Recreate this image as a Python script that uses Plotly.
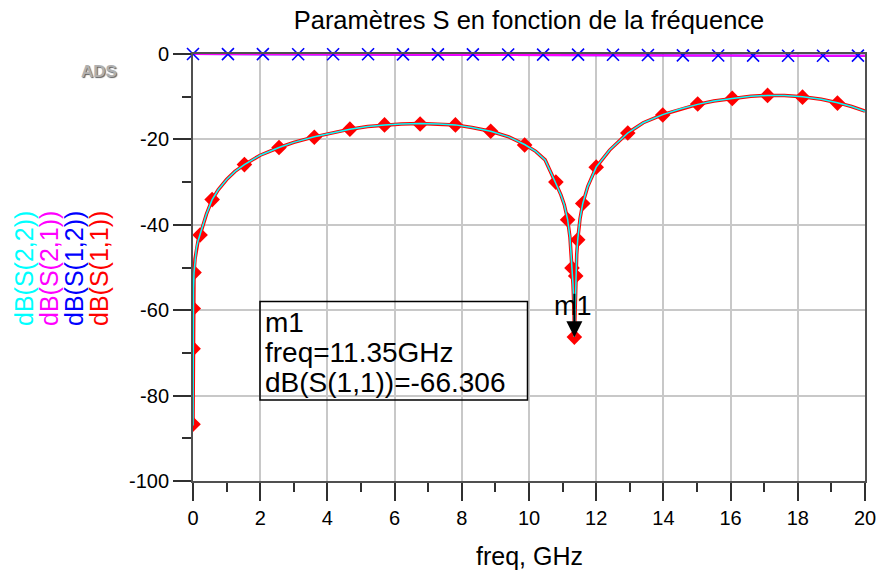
import plotly.graph_objects as go

# ---------------- data ----------------
freq_s11 = [0.0, 0.003, 0.007, 0.015, 0.03, 0.06, 0.1, 0.15, 0.21, 0.3, 0.4, 0.57, 0.75, 1.0,
            1.25, 1.53, 2.0, 2.56, 3.0, 3.61, 4.2, 4.67, 5.2, 5.7, 6.2, 6.76, 7.3, 7.81,
            8.3, 8.86, 9.4, 9.87, 10.2, 10.48, 10.77, 10.95, 11.05, 11.15, 11.22, 11.27,
            11.31, 11.34, 11.35, 11.37, 11.39, 11.42, 11.45, 11.52, 11.6, 11.75, 12.0,
            12.4, 12.94, 13.4, 13.98, 14.5, 15.02, 15.5, 16.05, 16.6, 17.1, 17.6, 18.14,
            18.7, 19.18, 19.6, 20.0]
s11_db = [-87.0, -69.0, -59.6, -55.0, -51.2, -48.0, -45.5, -43.8, -42.4, -40.0, -37.5, -34.1,
          -31.8, -29.4, -27.5, -25.9, -23.7, -21.9, -20.7, -19.4, -18.4, -17.6, -17.0, -16.6,
          -16.4, -16.3, -16.4, -16.6, -17.2, -18.1, -19.4, -21.2, -22.8, -24.8, -29.8, -33.0,
          -35.3, -38.8, -43.0, -48.0, -54.0, -60.0, -66.3, -61.0, -53.0, -47.0, -43.5, -38.5,
          -35.0, -31.0, -26.5, -22.5, -18.5, -16.1, -14.2, -12.9, -11.8, -11.0, -10.4, -9.9,
          -9.7, -9.7, -10.0, -10.6, -11.4, -12.3, -13.4]
s22_db = [-87.0, -69.0, -59.6, -55.0, -51.2, -48.0, -45.5, -43.8, -42.4, -40.0, -37.5, -34.1,
          -31.8, -29.4, -27.5, -25.9, -23.7, -21.9, -20.7, -19.4, -18.4, -17.6, -17.0, -16.6,
          -16.4, -16.3, -16.4, -16.6, -17.2, -18.1, -19.4, -21.2, -22.8, -24.8, -29.8, -33.0,
          -35.3, -38.8, -43.0, -48.0, -54.0, -60.0, -66.3, -61.0, -53.0, -47.0, -43.5, -38.5,
          -35.0, -31.0, -26.5, -22.5, -18.5, -16.1, -14.2, -12.9, -11.8, -11.0, -10.4, -9.9,
          -9.7, -9.7, -10.0, -10.6, -11.4, -12.3, -13.4]

# S11 marker symbols (diamonds)
freq_s11_mk = [0.0, 0.003, 0.007, 0.03, 0.21, 0.57, 1.53, 2.56, 3.61, 4.67, 5.7, 6.76, 7.81,
               8.86, 9.87, 10.8, 11.15, 11.28, 11.35, 11.39, 11.45, 11.6, 12.0, 12.94, 13.98,
               15.02, 16.05, 17.1, 18.14, 19.18]
s11_mk_db = [-86.7, -69.0, -59.6, -51.2, -42.4, -34.1, -25.9, -21.9, -19.5, -17.6, -16.6, -16.4,
             -16.6, -18.1, -21.3, -30.0, -38.8, -50.1, -66.3, -52.0, -43.5, -35.0, -26.5, -18.5,
             -14.3, -11.7, -10.4, -9.7, -10.1, -11.5]

# transmission S21 / S12
freq_s21 = [0, 2, 4, 6, 8, 10, 11, 11.35, 12, 13, 14, 15, 16, 17, 18, 19, 20]
s21_db = [0.0, -0.02, -0.05, -0.08, -0.1, -0.13, -0.15, -0.15, -0.17, -0.22, -0.3, -0.33,
          -0.38, -0.4, -0.4, -0.38, -0.42]
s12_db = [0.0, -0.02, -0.05, -0.08, -0.1, -0.13, -0.15, -0.15, -0.17, -0.22, -0.3, -0.33,
          -0.38, -0.4, -0.4, -0.38, -0.42]
freq_s12_mk = [0, 1.04, 2.08, 3.13, 4.17, 5.21, 6.25, 7.29, 8.33, 9.38, 10.42, 11.46, 12.5,
               13.54, 14.58, 15.63, 16.67, 17.71, 18.75, 19.79]
s12_mk_db = [0.0, -0.02, -0.03, -0.05, -0.06, -0.07, -0.08, -0.09, -0.1, -0.12, -0.14, -0.15,
             -0.18, -0.24, -0.31, -0.34, -0.38, -0.4, -0.4, -0.39]

marker_freq = 11.35
marker_db = -66.306

x_ticks = [0, 2, 4, 6, 8, 10, 12, 14, 16, 18, 20]
y_ticks = [0, -20, -40, -60, -80, -100]

FONT = "Liberation Sans, Arial, sans-serif"

fig = go.Figure()
fig.add_trace(go.Scatter(x=freq_s11, y=s11_db, mode="lines",
                         line=dict(color="#ff0000", width=3.5), hoverinfo="skip"))
fig.add_trace(go.Scatter(x=freq_s21, y=s12_db, mode="lines",
                         line=dict(color="#0000ff", width=2), hoverinfo="skip"))
fig.add_trace(go.Scatter(x=freq_s21, y=s21_db, mode="lines",
                         line=dict(color="#ff00ff", width=2), hoverinfo="skip"))
fig.add_trace(go.Scatter(x=freq_s11_mk, y=s11_mk_db, mode="markers",
                         marker=dict(symbol="diamond", size=12, color="#ff0000",
                                     line=dict(width=0)), hoverinfo="skip"))
fig.add_trace(go.Scatter(x=freq_s11, y=s22_db, mode="lines",
                         line=dict(color="#00ffff", width=1.5), hoverinfo="skip"))
fig.add_trace(go.Scatter(x=freq_s12_mk, y=s12_mk_db, mode="markers",
                         marker=dict(symbol="x-thin", size=12, color="#0000ff",
                                     line=dict(color="#0000ff", width=1.6)),
                         hoverinfo="skip", cliponaxis=False))

axis_common = dict(
    showline=True, linecolor="#505050", linewidth=2, mirror=True,
    ticks="outside", ticklen=18, tickwidth=2, tickcolor="#303030",
    showgrid=True, gridcolor="#c8c8c8", gridwidth=1.5, zeroline=False,
    tickfont=dict(family=FONT, size=20, color="#000000"), automargin=False,
)
fig.update_xaxes(range=[0, 20], tickvals=x_ticks, ticktext=[str(v) for v in x_ticks],
                 minor=dict(dtick=1, tick0=0, ticks="outside", ticklen=9, tickwidth=2,
                            tickcolor="#303030", showgrid=False),
                 **axis_common)
fig.update_yaxes(range=[-100, 0], tickvals=y_ticks, ticktext=[str(v) for v in y_ticks],
                 minor=dict(dtick=10, tick0=0, ticks="outside", ticklen=9, tickwidth=2,
                            tickcolor="#303030", showgrid=False),
                 **axis_common)

L, R, T, B = 193, 14, 54, 92
PW, PH = 879 - L - R, 573 - T - B


def px(xp):
    return (xp - L) / PW


def py(yp):
    return (T + PH - yp) / PH


annotations = []
# legend (rotated)
for xc, txt, col in [(24, "dB(S(2,2))", "#00ffff"), (49, "dB(S(2,1))", "#ff00ff"),
                     (74, "dB(S(1,2))", "#0000ff"), (99, "dB(S(1,1))", "#ff0000")]:
    annotations.append(dict(x=px(xc), y=py(269), xref="paper", yref="paper", text=txt,
                            textangle=-90, showarrow=False, xanchor="center",
                            yanchor="middle", font=dict(family=FONT, size=25, color=col)))
# ADS logo
annotations.append(dict(x=px(99), y=py(71), xref="paper", yref="paper", text="<b>ADS</b>",
                        showarrow=False, xanchor="center", yanchor="middle",
                        font=dict(family=FONT, size=17, color="#b0b0b0",
                                  shadow="1px 1px 1px #606060")))
# x axis title
annotations.append(dict(x=0.5, y=py(556), xref="paper", yref="paper", text="freq, GHz",
                        showarrow=False, xanchor="center", yanchor="middle",
                        font=dict(family=FONT, size=25, color="#000000")))
# marker readout box text
for yc, txt in [(322, "m1"), (352, "freq=11.35GHz"), (382, "dB(S(1,1))=-66.306")]:
    annotations.append(dict(x=px(263), y=py(yc), xref="paper", yref="paper", text=txt,
                            showarrow=False, xanchor="left", yanchor="middle",
                            font=dict(family=FONT, size=28, color="#000000")))
# marker arrow
annotations.append(dict(x=marker_freq, y=marker_db, xref="x", yref="y", text="",
                        showarrow=True, ax=0, ay=-45, arrowhead=2, arrowsize=1.6,
                        arrowwidth=2, arrowcolor="#000000", standoff=0))
annotations.append(dict(x=px(573), y=py(306), xref="paper", yref="paper", text="m1",
                        showarrow=False, xanchor="center", yanchor="middle",
                        font=dict(family=FONT, size=27, color="#000000")))

shapes = [dict(type="rect", xref="paper", yref="paper", x0=px(260), x1=px(527.5),
               y0=py(400), y1=py(301.5), line=dict(color="#000000", width=1.5),
               fillcolor="rgba(255,255,255,0)")]

fig.update_layout(
    width=879, height=573, autosize=False,
    margin=dict(l=L, r=R, t=T, b=B, autoexpand=False),
    paper_bgcolor="#ffffff", plot_bgcolor="#ffffff",
    showlegend=False,
    title=dict(text="Paramètres S en fonction de la fréquence", x=0.5, xref="paper",
               xanchor="center", y=1 - 20 / 573, yref="container", yanchor="middle",
               font=dict(family=FONT, size=25.5, color="#000000")),
    annotations=annotations, shapes=shapes,
    font=dict(family=FONT),
)

fig.write_html("out.html", config={"displayModeBar": False})
